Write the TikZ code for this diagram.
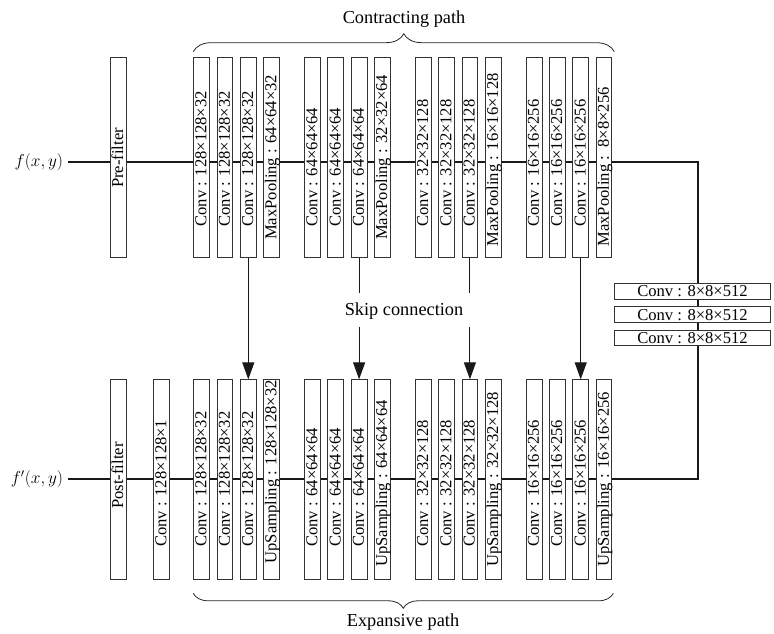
\documentclass[tikz,border=0pt]{standalone}
\usepackage[no-math]{fontspec}
\setmainfont{Liberation Serif}
\usetikzlibrary{arrows.meta,decorations.pathreplacing}
\newcommand\myboxfont{\fontsize{16.6}{19}\selectfont}
\newcommand\mylabelfont{\fontsize{18.3}{21}\selectfont}
\begin{document}
\begin{tikzpicture}[x=1pt,y=-1pt,
  blk/.style={draw=black!80,line width=0.9pt,fill=white,minimum width=15.8pt,minimum height=200pt,inner sep=0pt},
  midblk/.style={draw=black!80,line width=0.9pt,fill=white,minimum width=156pt,minimum height=15.8pt,inner sep=0pt,font=\myboxfont},
  vt/.style={rotate=90,anchor=base west,inner sep=0pt,font=\myboxfont},
  mainline/.style={line width=1.8pt,black!90},
  skipline/.style={line width=1.1pt,black!90},
  skiparrow/.style={skipline,-{Triangle[length=17pt,width=12pt]}},
  bracestyle/.style={line width=0.8pt,black!85,decorate,decoration={brace,amplitude=#1}},
  lbl/.style={font=\mylabelfont,inner sep=0pt}
]
\useasboundingbox (0,0) rectangle (774,634);
% inputs / outputs
\node[inner sep=5pt,anchor=east,font=\fontsize{17}{20}\selectfont] (fin) at (68.3,162) {$f(x,y)$};
\node[inner sep=5pt,anchor=east,font=\fontsize{17}{20}\selectfont] (fout) at (68.3,479.3) {$f'(x,y)$};
\coordinate (vx) at (698,0);
% main lines (behind the blocks)
\draw[mainline] (fin.east) -- (fin.east -| vx) -- (fout.east -| vx) -- (fout.east);
% pre / post filter
\node[blk] (pre) at (118.35,157.8) {};
\node[vt] (prel) at (123.1,188) {Pre-filter};
\node[blk] (post) at (118.35,479.8) {};
\node[vt] (postl) at (123.1,509) {Post-filter};
\node[blk] (c1) at (161.65,479.8) {};
\node[vt] (c1l) at (166.4,547) {Conv : 128×128×1};
% groups
\foreach \k/\cv/\mp/\up/\mpy/\upy in {
  0/128×128×32/64×64×32/128×128×32/240/563.7,
  1/64×64×64/32×32×64/64×64×64/240/567,
  2/32×32×128/16×16×128/32×32×128/246.7/567,
  3/16×16×256/\,8×8×256/16×16×256/246.7/567}{
  \pgfmathsetmacro\L{193.3+110.8*\k}
  \foreach \j in {0,1,2}{
    \pgfmathsetmacro\cx{\L+23.33*\j+8.35}
    \pgfmathsetmacro\tx{\cx+4.8}
    \node[blk] (t\k\j) at (\cx,157.8) {};
    \node[vt] (tl\k\j) at (\tx,226.7) {Conv : \cv};
    \node[blk] (b\k\j) at (\cx,479.8) {};
    \node[vt] (bl\k\j) at (\tx,547) {Conv : \cv};
  }
  \pgfmathsetmacro\cx{\L+23.33*3+8.35}
  \pgfmathsetmacro\tx{\cx+4.8}
  \node[blk] (t\k3) at (\cx,157.8) {};
  \node[vt] (tl\k3) at (\tx,\mpy) {MaxPooling : \mp};
  \node[blk] (b\k3) at (\cx,479.8) {};
  \node[vt] (bl\k3) at (\tx,\upy) {UpSampling : \up};
}
% bottleneck
\node[midblk] (m1) at (692.5,291.3) {Conv : 8×8×512};
\node[midblk] (m2) at (692.5,314.7) {Conv : 8×8×512};
\node[midblk] (m3) at (692.5,338) {Conv : 8×8×512};
% skip connections
\node[lbl] (skip) at (404,311.5) {Skip connection};
\coordinate (sk1) at (0,293.3);
\coordinate (sk2) at (0,326.7);
\draw[skiparrow] (t02.south) -- (b02.north);
\draw[skiparrow] (t32.south) -- (b32.north);
\draw[skipline] (t12.south) -- (t12.south |- sk1);
\draw[skiparrow] (t12.south |- sk2) -- (b12.north);
\draw[skipline] (t22.south) -- (t22.south |- sk1);
\draw[skiparrow] (t22.south |- sk2) -- (b22.north);
% braces
\draw[bracestyle=18pt] (193.3,51.7) -- (614.3,51.7);
\node[lbl] (contr) at (404,19) {Contracting path};
\draw[bracestyle=15pt] (613.3,593.3) -- (193.3,593.3);
\node[lbl] (expa) at (403,622) {Expansive path};
\end{tikzpicture}
\end{document}
